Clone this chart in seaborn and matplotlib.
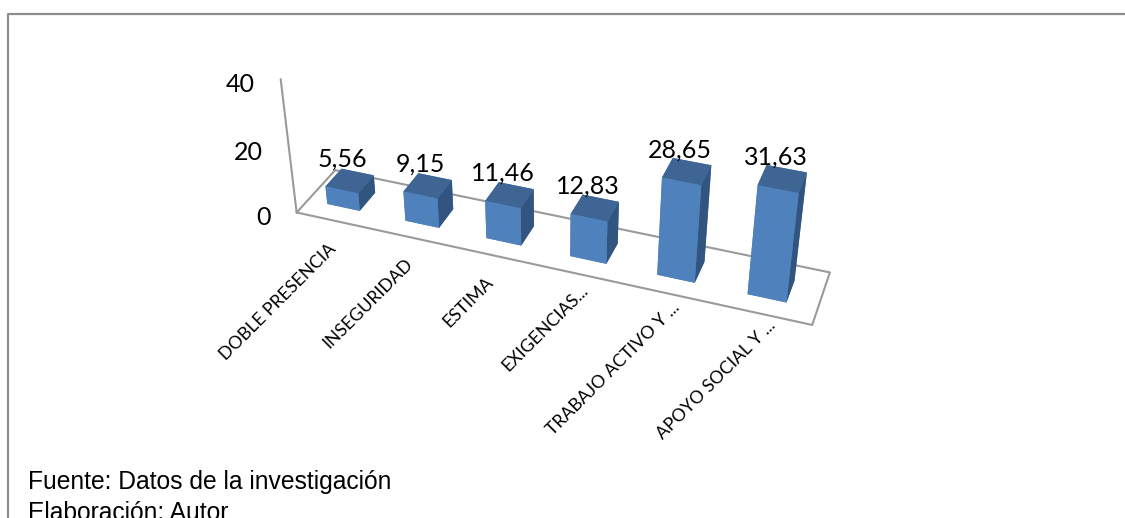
import seaborn as sns
import matplotlib.pyplot as plt
from mpl_toolkits.mplot3d import proj3d
import numpy as np
import pandas as pd

categories = ['DOBLE PRESENCIA', 'INSEGURIDAD', 'ESTIMA', 'EXIGENCIAS...',
              'TRABAJO ACTIVO Y ...', 'APOYO SOCIAL Y ...']
values = [5.56, 9.15, 11.46, 12.83, 28.65, 31.63]
value_labels = ['5,56', '9,15', '11,46', '12,83', '28,65', '31,63']
z_ticks = [0, 20, 40]

sns.set_theme(style='white')
plt.rcParams['font.family'] = ['Lato', 'DejaVu Sans']

df = pd.DataFrame({'categoria': categories, 'valor': values, 'etiqueta': value_labels})

W, H = 1125, 518
fig = plt.figure(figsize=(W / 100, H / 100), dpi=100)
fig.patch.set_facecolor('white')

# frame of the pasted chart, only left and top are visible
fig.add_artist(plt.Line2D([8 / W, 8 / W, 1], [0, 1 - 14 / H, 1 - 14 / H],
                          color='#8c8c8c', lw=1.6))

size = 1200
cx, cy = 539, 192
ax = fig.add_axes([(cx - size / 2) / W, (H - cy - size / 2) / H, size / W, size / H],
                  projection='3d')
ax.patch.set_alpha(0)
ax.set_proj_type('persp', focal_length=0.22)
ax.view_init(elev=33, azim=-70)
ax.set_box_aspect((550, 88, 161), zoom=0.471)
ax.set_axis_off()

n = len(df)
depth = 1.0
ax.set_xlim(0, n)
ax.set_ylim(0, depth)
ax.set_zlim(0, 40)

bar_w, bar_d = 0.42, 0.42
front, top, side = '#4F81BD', '#3E6594', '#32557F'
# face order of bar3d: -z, +z, -y, +y, -x, +x
face_colors = [front, top, front, front, front, side] * n
ax.bar3d(np.arange(n) + 0.46 - bar_w / 2, np.full(n, (depth - bar_d) / 2), np.zeros(n),
         bar_w, bar_d, df['valor'], color=face_colors, shade=False, zsort='max',
         edgecolor='none', linewidth=0)

# floor and vertical axis
grey = '#9a9a9a'
ax.plot([0, n, n, 0, 0], [0, 0, depth, depth, 0], [0, 0, 0, 0, 0], color=grey, lw=1.5, zorder=0)
ax.plot([0, 0], [0, 0], [0, 40], color=grey, lw=1.5, zorder=0)

M = ax.get_proj()
for tick in z_ticks:
    px, py, _ = proj3d.proj_transform(0, 0, tick, M)
    ax.annotate(str(tick), xy=(px, py), xycoords='data', xytext=(-26, -5),
                textcoords='offset pixels', fontsize=18, ha='right', va='center', color='black')

# excel places the rotated labels unevenly, nudge each one in pixels
label_shift = [(-8, -20), (-11, -17), (-13, -18), (-4, -7), (-1, -5), (3, -3)]
for i, row in df.iterrows():
    px, py, _ = proj3d.proj_transform(i + 0.46, depth / 2, row['valor'], M)
    ax.annotate(row['etiqueta'], xy=(px, py), xycoords='data', xytext=(-7, 10),
                textcoords='offset pixels', fontsize=18, ha='center', va='bottom', color='black')
    px, py, _ = proj3d.proj_transform(i + 0.5, 0, 0, M)
    ax.annotate(row['categoria'], xy=(px, py), xycoords='data', xytext=label_shift[i],
                textcoords='offset pixels', fontsize=12.7, rotation=45, ha='right', va='top',
                rotation_mode='anchor', color='black')

fig.text(28 / W, 1 - 482 / H, 'Fuente: Datos de la investigación', family='Liberation Sans',
         fontsize=17.7, va='center', color='black')
fig.text(28 / W, 1 - 513 / H, 'Elaboración: Autor', family='Liberation Sans',
         fontsize=17.7, va='center', color='black')

fig.savefig('out.png', dpi=100)
